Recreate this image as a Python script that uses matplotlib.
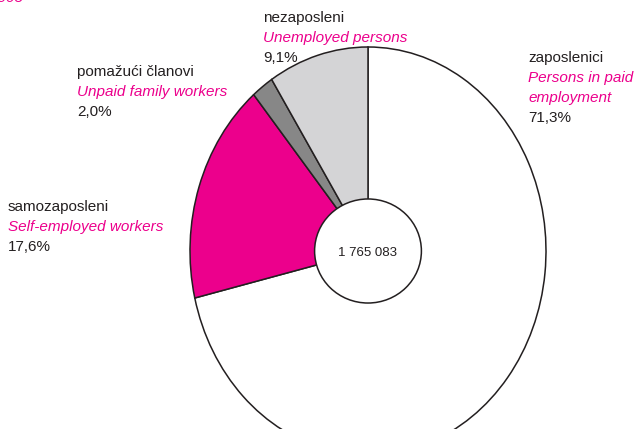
import matplotlib
matplotlib.use('Agg')

import matplotlib.pyplot as plt
from matplotlib.patches import Ellipse

# --- Data ---
labels_hr = ['zaposlenici', 'samozaposleni', 'pomažući članovi', 'nezaposleni']
labels_en = ['Persons in paid\nemployment', 'Self-employed workers',
             'Unpaid family workers', 'Unemployed persons']
shares = [71.3, 17.6, 2.0, 9.1]
total_label = '1 765 083'
colors = ['#FFFFFF', '#EC008C', '#878787', '#D4D4D6']

PINK = '#EC008C'
DARK = '#231F20'
W, H = 634, 429

plt.rcParams['font.family'] = ['Liberation Sans', 'DejaVu Sans']

fig = plt.figure(figsize=(W / 100, H / 100), dpi=100)

# pie is slightly stretched vertically in the reference
cx, cy, rx, ry = 368, 251, 178, 204
ax = fig.add_axes([(cx - rx) / W, (H - (cy + ry)) / H, 2 * rx / W, 2 * ry / H])
ax.pie(shares, colors=colors, startangle=90, counterclock=False,
       wedgeprops=dict(edgecolor=DARK, linewidth=1.1))
ax.set_aspect('auto')
ax.set_xlim(-1, 1)
ax.set_ylim(-1, 1)
ax.axis('off')

ax.add_patch(Ellipse((0, 0), 0.60, 0.51, facecolor='white',
                     edgecolor=DARK, linewidth=1.1, zorder=5))
ax.text(0, -0.01, total_label, ha='center', va='center', fontsize=9.5,
        color=DARK, zorder=6)


def px(x, y):
    return x / W, 1 - y / H


# label blocks: (x, y of first line, index)
label_pos = [(528, 58, 0), (8, 207, 1), (77, 72, 2), (263, 18, 3)]
for x, y, i in label_pos:
    fig.text(*px(x, y), labels_hr[i], fontsize=11, color=DARK, va='center')
    lines = labels_en[i].split('\n')
    for k, line in enumerate(lines):
        fig.text(*px(x, y + 20 + 20 * k), line, fontsize=11, color=PINK,
                 style='italic', va='center')
    fig.text(*px(x, y + 20 + 20 * len(lines)), f'{shares[i]:.1f}%'.replace('.', ','),
             fontsize=11, color=DARK, va='center')

# cropped title remnant at the top-left corner
fig.text(*px(23, 5), '2005', fontsize=11, color=PINK, style='italic',
         ha='right', va='bottom')

fig.savefig('out.png', dpi=100)
